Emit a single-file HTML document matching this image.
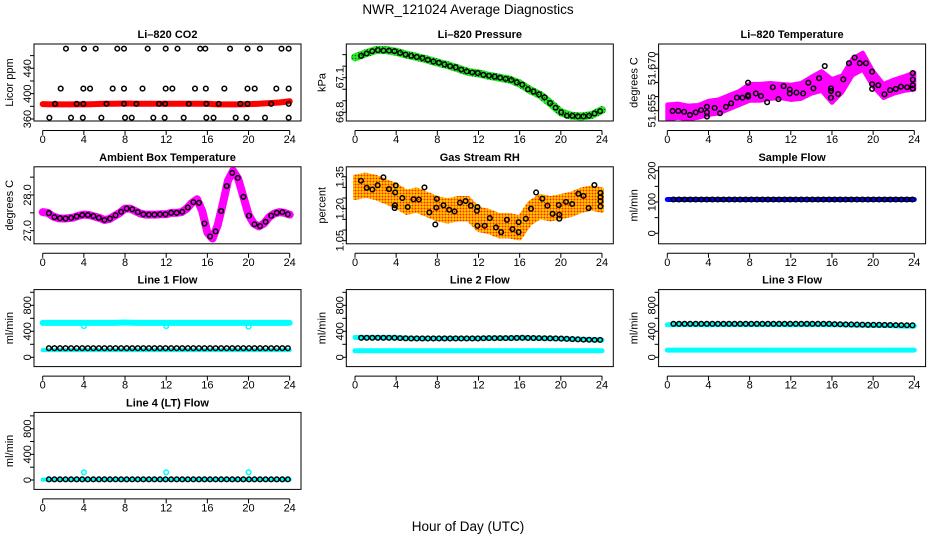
<!DOCTYPE html>
<html><head><meta charset="utf-8"><style>
html,body{margin:0;padding:0;background:#fff;}
svg{display:block;font-family:"Liberation Sans",sans-serif;}
</style></head><body>
<svg id="chart" width="936" height="540" viewBox="0 0 936 540" xmlns="http://www.w3.org/2000/svg">
<defs>
<pattern id="rhpat" width="3" height="3" patternUnits="userSpaceOnUse"><rect width="3" height="3" fill="#ffcc00"/><circle cx="1.5" cy="1.5" r="1" fill="#ff2000"/></pattern>
<pattern id="prpat" width="3" height="3" patternUnits="userSpaceOnUse"><rect width="3" height="3" fill="#22ee22"/><circle cx="1.5" cy="1.5" r="0.7" fill="#116611"/></pattern>
</defs>
<text x="468" y="14" text-anchor="middle" font-size="13.5">NWR_121024  Average Diagnostics</text>
<text x="468" y="531" text-anchor="middle" font-size="13.5">Hour of Day (UTC)</text>
</svg>
<script>
// ---------- data ----------
const hourTicks=[0,4,8,12,16,20,24];
const hours=[0,1,2,3,4,5,6,7,8,9,10,11,12,13,14,15,16,17,18,19,20,21,22,23,24];
const circleHours=[0.6,1.14,1.68,2.22,2.76,3.3,3.84,4.38,4.92,5.46,6.0,6.54,7.08,7.62,8.16,8.7,9.24,9.78,10.32,10.86,11.4,11.94,12.48,13.02,13.56,14.1,14.64,15.18,15.72,16.26,16.8,17.34,17.88,18.42,18.96,19.5,20.04,20.58,21.12,21.66,22.2,22.74,23.28,23.82];

// CO2
const co2Red=[383.5,383,383,383,383,383.5,384,384,384.5,384,384,384,384,384,384,384,384,383,383,383,383.5,384,385,386,388];
const co2Hours=[2.26,4.01,5.15,7.25,7.9,10.2,11.95,13.1,15.3,15.8,18.2,19.9,21.1,23.2,23.9,
1.75,3.95,4.6,6.8,7.9,9.7,11.95,12.6,14.8,15.85,17.65,19.9,20.6,22.7,23.9,
1.2,3.3,3.95,6.2,7.9,9.1,11.3,11.9,14.2,15.9,17.1,19.2,19.9,22.2,23.9,
0.65,2.75,3.9,5.7,8,8.65,10.75,11.85,13.7,15.9,16.6,18.75,19.8,21.6,23.9];
const co2Values=[471,471,471,471,471,471,471,471,471,471,471,471,471,471,471,
408,408,408,408,408,408,408,408,408,408,408,408,408,408,408,
384,384,384,384,384,384,384,384,384,384,384,384,384,384,384,
362,362,362,362,362,362,362,362,362,362,362,362,362,362,362];

// Pressure
const presBand=[67.276,67.31,67.339,67.339,67.325,67.30,67.28,67.258,67.232,67.209,67.18,67.15,67.137,67.117,67.10,67.085,67.05,66.993,66.95,66.878,66.8,66.771,66.763,66.777,66.82];
const presCircles=[67.29,67.31,67.33,67.34,67.335,67.335,67.33,67.315,67.30,67.29,67.28,67.27,67.255,67.24,67.23,67.215,67.20,67.19,67.17,67.155,67.145,67.14,67.125,67.117,67.11,67.10,67.09,67.08,67.06,67.04,67.0,66.98,66.955,66.93,66.88,66.84,66.80,66.77,66.77,66.765,66.765,66.77,66.79,66.81];

// Li-820 temperature
const ltUpper=[51.6572,51.6575,51.6568,51.657,51.6585,51.659,51.6605,51.662,51.6645,51.6645,51.6648,51.6645,51.6642,51.6648,51.667,51.669,51.6662,51.6675,51.6735,51.6755,51.669,51.6645,51.666,51.6672,51.6685];
const ltLower=[51.6518,51.6525,51.652,51.6525,51.6535,51.654,51.6555,51.657,51.6585,51.6585,51.6592,51.6595,51.6588,51.6592,51.661,51.662,51.6578,51.6615,51.6675,51.6695,51.6635,51.6595,51.661,51.662,51.6625];
const ltHours=[0.52,1.07,1.63,2.2,2.76,3.28,3.85,3.85,3.85,4.6,5.12,5.7,6.2,6.76,7.3,7.85,7.85,7.85,8.6,9.1,9.7,10.25,10.8,11.3,11.9,11.9,12.55,13.2,13.7,14.2,14.75,15.3,15.9,15.9,15.9,16.6,17.1,17.65,18.2,18.7,19.3,19.9,19.9,19.9,20.5,21.1,21.65,22.2,22.7,23.3,23.85,23.85,23.85,23.85];
const ltValues=[51.6549,51.6549,51.6546,51.6535,51.6544,51.6552,51.6564,51.6544,51.6529,51.656,51.6541,51.6564,51.6576,51.6596,51.6596,51.6649,51.66,51.6605,51.6611,51.6602,51.658,51.6633,51.6591,51.6637,51.6625,51.6611,51.6614,51.6611,51.6649,51.6629,51.6665,51.6708,51.6629,51.662,51.6596,51.6609,51.6661,51.6718,51.6738,51.6718,51.6718,51.6688,51.6644,51.6627,51.664,51.6608,51.6623,51.6627,51.6635,51.6633,51.6683,51.666,51.664,51.6628];

// Ambient box temperature
const ambHours=[0,0.5,1,1.5,2,2.5,3,3.5,4,4.5,5,5.5,6,6.5,7,7.5,8,8.5,9,9.5,10,10.5,11,11.5,12,12.5,13,13.5,14,14.5,15,15.5,16,16.5,17,17.5,18,18.5,19,19.5,20,20.5,21,21.5,22,22.5,23,23.5,24];
const ambBand=[27.52,27.50,27.40,27.35,27.34,27.35,27.37,27.42,27.45,27.44,27.40,27.36,27.30,27.33,27.42,27.50,27.62,27.62,27.55,27.48,27.45,27.45,27.45,27.46,27.46,27.50,27.50,27.52,27.62,27.78,27.88,27.55,26.95,26.78,27.15,27.75,28.40,28.68,28.45,27.95,27.45,27.20,27.12,27.20,27.38,27.48,27.52,27.50,27.45];
const ambCircles=[27.49,27.38,27.35,27.34,27.36,27.4,27.44,27.44,27.41,27.36,27.3,27.34,27.43,27.53,27.62,27.6,27.52,27.46,27.45,27.45,27.46,27.46,27.5,27.5,27.53,27.65,27.8,27.78,27.2,26.84,26.98,27.55,28.25,28.62,28.48,27.95,27.42,27.18,27.13,27.25,27.42,27.5,27.52,27.46];

// Gas stream RH
const rhUpper=[1.35,1.36,1.35,1.33,1.31,1.28,1.29,1.27,1.25,1.24,1.25,1.25,1.20,1.19,1.17,1.17,1.16,1.23,1.26,1.25,1.26,1.27,1.29,1.30,1.29];
const rhLower=[1.25,1.26,1.25,1.23,1.21,1.18,1.19,1.17,1.15,1.14,1.15,1.15,1.10,1.09,1.07,1.07,1.06,1.13,1.16,1.15,1.16,1.17,1.19,1.20,1.19];
const rhHours=[0.58,1.14,1.69,2.2,2.76,3.3,3.9,3.96,3.85,3.88,4.6,5.12,5.68,6.2,6.75,7.23,7.8,7.95,7.9,8.6,9.15,9.67,10.2,10.75,11.25,11.84,11.9,11.9,12.6,13.1,13.7,14.2,14.76,15.3,15.9,15.9,16.6,17.1,17.6,18.2,18.7,19.2,19.8,19.85,19.85,20.5,21.1,21.7,22.2,22.7,23.26,23.85,23.85,23.85,23.85];
const rhValues=[1.331,1.298,1.29,1.31,1.347,1.292,1.276,1.309,1.203,1.216,1.25,1.208,1.244,1.243,1.30,1.183,1.126,1.246,1.205,1.216,1.195,1.187,1.228,1.236,1.214,1.19,1.208,1.12,1.12,1.156,1.112,1.09,1.148,1.104,1.137,1.09,1.153,1.2,1.276,1.247,1.214,1.176,1.217,1.172,1.153,1.232,1.222,1.27,1.26,1.203,1.311,1.274,1.254,1.235,1.211];

// Sample flow
const sampleBand=[108,108,108,108,108,108,108,108,108,108,108,108,108,108,108,108,108,108,108,108,108,108,108,108,108];
const sampleCircles=[108,108,108,108,108,108,108,108,108,108,108,108,108,108,108,108,108,108,108,108,108,108,108,108,108,108,108,108,108,108,108,108,108,108,108,108,108,108,108,108,108,108,108,108];

// Line flows
const line1Upper=[530,530,530,530,530,530,530,530,535,530,530,530,530,530,530,530,530,530,530,530,530,530,530,530,530];
const line1Lower=[110,110,110,110,110,110,110,110,110,110,110,110,110,110,110,110,110,110,110,110,110,110,110,110,110];
const line1Circles=[140,140,140,140,140,140,140,140,140,140,140,140,140,140,140,140,140,140,140,140,140,140,140,140,140,140,140,140,140,140,140,140,140,140,140,140,140,140,140,140,140,140,140,140];
const line2Upper=[305,305,305,305,300,295,290,290,290,290,290,290,290,295,295,295,300,295,295,290,285,280,275,270,265];
const line2Lower=[100,100,100,100,100,100,100,100,100,100,100,100,100,100,100,100,100,100,100,100,100,100,100,100,100];
const line2Circles=[300,300,300,300,300,300,300,295,292,290,290,290,290,290,290,290,290,290,290,290,290,290,293,295,295,295,295,296,298,300,298,296,295,293,292,290,288,284,280,276,272,270,268,268];
const line3Upper=[500,505,505,505,500,505,505,505,505,505,505,505,500,505,505,505,500,500,495,495,490,490,485,480,480];
const line3Lower=[110,110,110,110,110,110,110,110,110,110,110,110,110,110,110,110,110,110,110,110,110,110,110,110,110];
const line3Circles=[515,515,515,515,515,515,515,515,515,515,515,515,515,515,515,515,515,515,515,515,515,515,515,515,515,515,515,515,515,510,508,506,505,503,502,500,500,500,498,497,495,495,493,492];
const line4Band=[5,5,5,5,5,5,5,5,5,5,5,5,5,5,5,5,5,5,5,5,5,5,5,5,5];
const line4Circles=[10,10,10,10,10,10,10,10,10,10,10,10,10,10,10,10,10,10,10,10,10,10,10,10,10,10,10,10,10,10,10,10,10,10,10,10,10,10,10,10,10,10,10,10];
const dipHours=[4,12,20];
const line1Dips=[480,480,470];
const line4Spikes=[120,120,120];

// ---------- drawing ----------
const NS='http://www.w3.org/2000/svg';
const svg=document.getElementById('chart');
const COLS=[34,346.3,658.6], ROWS=[44,166.8,289.6,412.4], BW=267, BH=77;
let clipId=0;
function el(tag,attrs,parent){const e=document.createElementNS(NS,tag);for(const k in attrs)e.setAttribute(k,attrs[k]);(parent||svg).appendChild(e);return e;}
function xmap(c){const x0=COLS[c]+8.7;return h=>x0+h*247/24;}
function ymap(vA,yA,vB,yB){return v=>yA+(v-vA)*(yB-yA)/(vB-vA);}

function panel(name,c,r,title,ylab,ticks,labels,ym){
  const L=COLS[c],T=ROWS[r],B=T+BH,xm=xmap(c);
  const g=el('g',{});
  
  
  const t=el('text',{x:L+BW/2,y:T-6,'text-anchor':'middle','font-size':'11','font-weight':'bold'},g);
  t.textContent=title;
  
  
  // x axis
  const xa=el('line',{x1:xm(0),x2:xm(24),y1:B+9.5,y2:B+9.5,stroke:'#000','stroke-width':1},g);
  
  
  hourTicks.forEach(h=>{
    el('line',{x1:xm(h),x2:xm(h),y1:B+9.5,y2:B+14,stroke:'#000'},g);
    const lt=el('text',{x:xm(h),y:B+22,'text-anchor':'middle','font-size':'11'},g);
    lt.textContent=h;
    
    
  });
  // y axis
  const ya=el('line',{x1:L,x2:L,y1:ym(ticks[0]),y2:ym(ticks[ticks.length-1]),stroke:'#000'},g);
  
  
  ticks.forEach(v=>{el('line',{x1:L-4,x2:L,y1:ym(v),y2:ym(v),stroke:'#000'},g);});
  labels.forEach(v=>{
    const yy=ym(parseFloat(v));
    const lt=el('text',{x:L-3,y:yy,'text-anchor':'middle','font-size':'11',transform:`rotate(-90 ${L-3} ${yy})`},g);
    lt.textContent=v;
    
    
  });
  const yt=el('text',{x:L-21,y:T+BH/2,'text-anchor':'middle','font-size':'11',transform:`rotate(-90 ${L-21} ${T+BH/2})`},g);
  yt.textContent=ylab;
  
  
  const id='clip'+(clipId++);
  const cp=el('clipPath',{id:id},g);el('rect',{x:L,y:T,width:BW,height:BH},cp);
  const plot=el('g',{'clip-path':`url(#${id})`},g);
  
  
  const box=el('rect',{x:L,y:T,width:BW,height:BH,fill:'none',stroke:'#000'},g);
  
  
  return {plot,xm,ym};
}
function band(p,name,hs,vals,color,w){
  const pts=hs.map((h,i)=>p.xm(h)+','+p.ym(vals[i])).join(' ');
  const e=el('polyline',{points:pts,fill:'none',stroke:color,'stroke-width':w,'stroke-linejoin':'round','stroke-linecap':'round'},p.plot);
  
  
}
function area(p,name,hs,up,lo,fill){
  const a=hs.map((h,i)=>p.xm(h)+','+p.ym(up[i]));
  const b=hs.map((h,i)=>p.xm(h)+','+p.ym(lo[i])).reverse();
  const e=el('polygon',{points:a.concat(b).join(' '),fill:fill,stroke:fill,'stroke-width':4,'stroke-linejoin':'round'},p.plot);
  
  
}
function circles(p,name,hs,vals,color){
  hs.forEach((h,i)=>{
    const e=el('circle',{cx:p.xm(h),cy:p.ym(vals[i]),r:2.3,fill:'none',stroke:color,'stroke-width':1.5},p.plot);
    
    
  });
}
const flowTicks=[0,200,400,600,800,1000], flowLabels=['0','400','800'];

// Row 1
let p=panel('co2',0,0,'Li–820 CO2','Licor ppm',[360,380,400,420,440,460],['360','400','440'],ymap(360,119,440,68.3));
band(p,'co2-red-band',hours,co2Red,'#ff0000',6);
circles(p,'co2-point',co2Hours,co2Values,'#000');

p=panel('pressure',1,0,'Li–820 Pressure','kPa',[66.8,66.9,67.0,67.1,67.2,67.3],['66.8','67.1'],ymap(66.8,112.3,67.1,77.7));
band(p,'pressure-band',hours,presBand,'url(#prpat)',8);
circles(p,'pressure-point',circleHours,presCircles,'#000');

p=panel('li820-temp',2,0,'Li–820 Temperature','degrees C',[51.655,51.66,51.665,51.67,51.675],['51.655','51.670'],ymap(51.655,110.7,51.670,68.3));
area(p,'li820-temp-cloud',hours,ltUpper,ltLower,'#ff00ff');
circles(p,'li820-temp-point',ltHours,ltValues,'#000');

// Row 2
p=panel('ambient',0,1,'Ambient Box Temperature','degrees C',[27.0,27.5,28.0,28.5],['27.0','28.0'],ymap(27,230.7,28,195));
band(p,'ambient-band',ambHours,ambBand,'#ff00ff',8);
circles(p,'ambient-point',circleHours,ambCircles,'#000');

p=panel('rh',1,1,'Gas Stream RH','percent',[1.05,1.10,1.15,1.20,1.25,1.30,1.35],['1.05','1.20','1.35'],ymap(1.05,240.7,1.35,176.7));
area(p,'rh-cloud',hours,rhUpper,rhLower,'url(#rhpat)');
circles(p,'rh-point',rhHours,rhValues,'#000');

p=panel('sample-flow',2,1,'Sample Flow','ml/min',[0,50,100,150,200],['0','100','200'],ymap(0,233.3,200,170.7));
band(p,'sample-flow-band',hours,sampleBand,'#0000ff',5);
circles(p,'sample-flow-point',circleHours,sampleCircles,'#000');

// Row 3
p=panel('line1',0,2,'Line 1 Flow','ml/min',flowTicks,flowLabels,ymap(0,357.3,800,305.3));
band(p,'line1-upper-band',hours,line1Upper,'#00ffff',6);
band(p,'line1-lower-band',hours,line1Lower,'#00ffff',4);
circles(p,'line1-dip',dipHours,line1Dips,'#00ffff');
circles(p,'line1-point',circleHours,line1Circles,'#000');

p=panel('line2',1,2,'Line 2 Flow','ml/min',flowTicks,flowLabels,ymap(0,357.3,800,305.3));
band(p,'line2-upper-band',hours,line2Upper,'#00ffff',5);
band(p,'line2-lower-band',hours,line2Lower,'#00ffff',5);
circles(p,'line2-point',circleHours,line2Circles,'#000');

p=panel('line3',2,2,'Line 3 Flow','ml/min',flowTicks,flowLabels,ymap(0,357.3,800,305.3));
band(p,'line3-upper-band',hours,line3Upper,'#00ffff',5);
band(p,'line3-lower-band',hours,line3Lower,'#00ffff',5);
circles(p,'line3-point',circleHours,line3Circles,'#000');

// Row 4
p=panel('line4',0,3,'Line 4 (LT) Flow','ml/min',flowTicks,flowLabels,ymap(0,480,800,428.7));
band(p,'line4-band',hours,line4Band,'#00ffff',4);
circles(p,'line4-spike',dipHours,line4Spikes,'#00ffff');
circles(p,'line4-point',circleHours,line4Circles,'#000');
</script>
</body></html>
